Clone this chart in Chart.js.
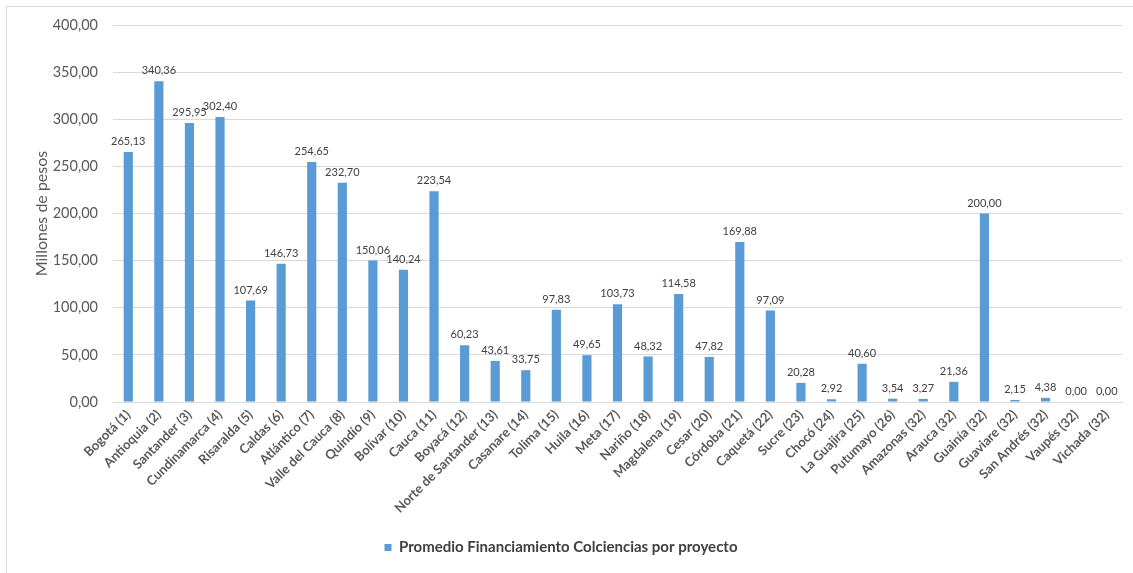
<!DOCTYPE html>
<html lang="es">
<head>
    <meta charset="UTF-8">
    <title>Promedio Financiamiento Colciencias por proyecto</title>
    <script src="https://cdn.jsdelivr.net/npm/chart.js"></script>
    <style>
        html, body { margin: 0; padding: 0; background: #fff; overflow: hidden; }
        .frame {
            position: absolute; left: 6px; top: 6px; width: 1140px; height: 580px;
            border: 1px solid #d9d9d9; box-sizing: border-box;
        }
        .chart-box { position: absolute; left: 0; top: 0; width: 1133px; height: 573px; }
    </style>
</head>
<body>
    <div class="frame"></div>
    <div class="chart-box">
        <canvas id="financeChart"></canvas>
    </div>

    <script>
        const departments = [
            'Bogotá (1)', 'Antioquia (2)', 'Santander (3)', 'Cundinamarca (4)', 'Risaralda (5)',
            'Caldas (6)', 'Atlántico (7)', 'Valle del Cauca (8)', 'Quindío (9)', 'Bolívar (10)',
            'Cauca (11)', 'Boyacá (12)', 'Norte de Santander (13)', 'Casanare (14)', 'Tolima (15)',
            'Huila (16)', 'Meta (17)', 'Nariño (18)', 'Magdalena (19)', 'Cesar (20)',
            'Córdoba (21)', 'Caquetá (22)', 'Sucre (23)', 'Chocó (24)', 'La Guajira (25)',
            'Putumayo (26)', 'Amazonas (32)', 'Arauca (32)', 'Guainía (32)', 'Guaviare (32)',
            'San Andrés (32)', 'Vaupés (32)', 'Vichada (32)'
        ];
        const averageFunding = [
            265.13, 340.36, 295.95, 302.40, 107.69,
            146.73, 254.65, 232.70, 150.06, 140.24,
            223.54, 60.23, 43.61, 33.75, 97.83,
            49.65, 103.73, 48.32, 114.58, 47.82,
            169.88, 97.09, 20.28, 2.92, 40.60,
            3.54, 3.27, 21.36, 200.00, 2.15,
            4.38, 0.00, 0.00
        ];
        const yTicks = [0, 50, 100, 150, 200, 250, 300, 350, 400];

        const fmt = v => v.toFixed(2).replace('.', ',');
        const FONT = 'Lato, "Open Sans", sans-serif';

        // draws the value over each bar
        const valueLabels = {
            id: 'valueLabels',
            afterDatasetsDraw(chart) {
                const ctx = chart.ctx;
                const meta = chart.getDatasetMeta(0);
                ctx.save();
                ctx.font = '11px ' + FONT;
                ctx.fillStyle = '#404040';
                ctx.textAlign = 'center';
                ctx.textBaseline = 'bottom';
                meta.data.forEach((bar, i) => {
                    ctx.fillText(fmt(averageFunding[i]), bar.x, bar.y - 5);
                });
                ctx.restore();
            }
        };

        const ctx = document.getElementById('financeChart').getContext('2d');
        new Chart(ctx, {
            type: 'bar',
            data: {
                labels: departments,
                datasets: [{
                    label: 'Promedio Financiamiento Colciencias por proyecto',
                    data: averageFunding,
                    backgroundColor: '#5b9bd5',
                    barPercentage: 0.3,
                    categoryPercentage: 1.0
                }]
            },
            options: {
                responsive: true,
                maintainAspectRatio: false,
                animation: false,
                layout: { padding: { left: 0, right: 11, top: 25, bottom: 8 } },
                plugins: {
                    legend: {
                        position: 'bottom',
                        labels: {
                            boxWidth: 7, boxHeight: 7, padding: 10,
                            color: '#404040',
                            font: { family: FONT, size: 15, weight: 'bold' }
                        }
                    },
                    tooltip: { enabled: false }
                },
                scales: {
                    x: {
                        afterFit: axis => { axis.height = 128; },
                        grid: { display: false, drawTicks: false },
                        border: { color: '#d9d9d9' },
                        ticks: {
                            color: '#595959',
                            font: { family: FONT, size: 13, weight: 'bold' },
                            minRotation: 45, maxRotation: 45,
                            autoSkip: false, padding: 5
                        }
                    },
                    y: {
                        min: 0, max: 400,
                        afterBuildTicks: axis => { axis.ticks = yTicks.map(v => ({ value: v })); },
                        afterFit: axis => { axis.width = 113; },
                        grid: { color: '#d9d9d9', drawTicks: false },
                        border: { display: false },
                        title: {
                            display: true, text: 'Millones de pesos',
                            color: '#595959', font: { family: FONT, size: 16 },
                            padding: { top: 32, bottom: 0 }
                        },
                        ticks: {
                            color: '#595959',
                            font: { family: FONT, size: 14.5 },
                            padding: 15,
                            callback: v => fmt(v)
                        }
                    }
                }
            },
            plugins: [valueLabels]
        });
    </script>
</body>
</html>
